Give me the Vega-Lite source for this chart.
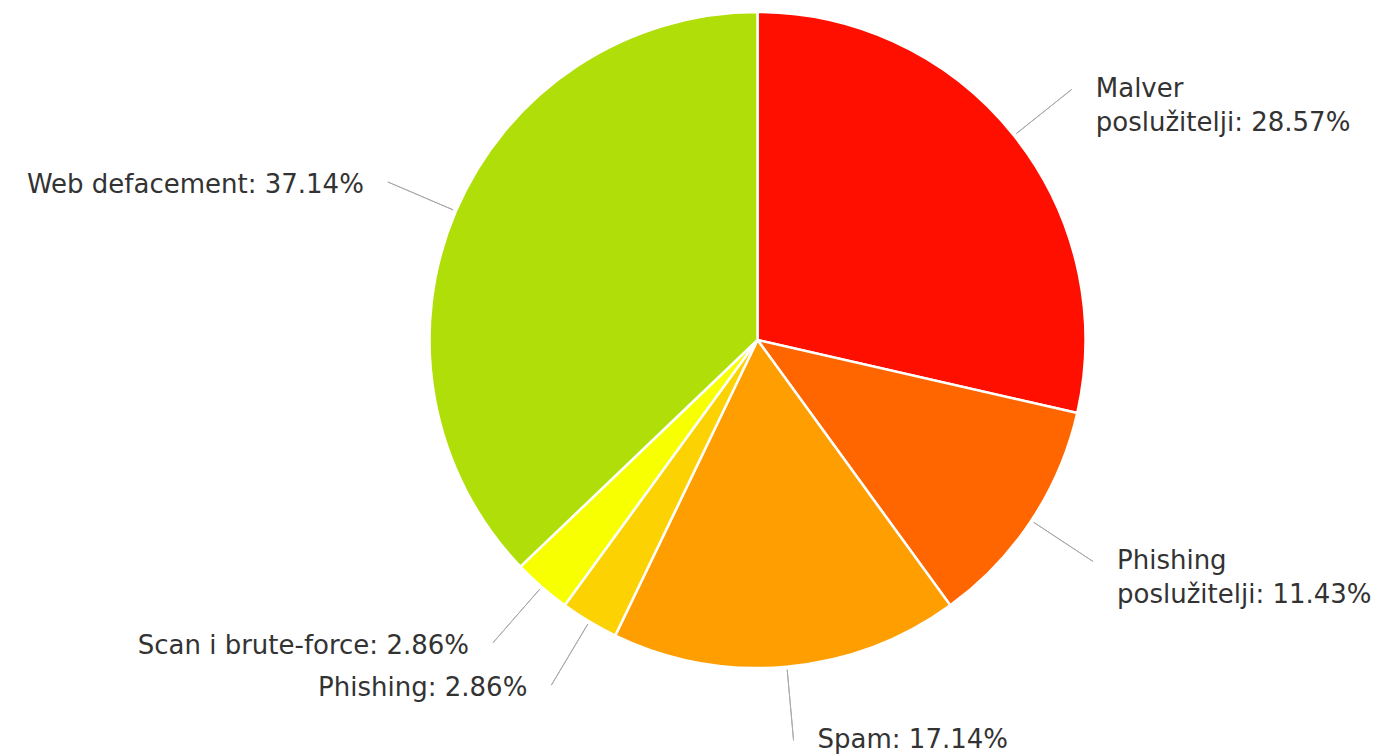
{
  "$schema": "https://vega.github.io/schema/vega-lite/v6.json",
  "width": 1255,
  "height": 680,
  "autosize": "none",
  "padding": {"left": 130, "top": 0, "right": 0, "bottom": 76},
  "background": "white",
  "view": {"stroke": null},
  "data": {
    "values": [
      {"o": 1, "kategorija": "Malver poslužitelji", "udio": 28.57, "oznaka": "Malver\nposlužitelji: 28.57%"},
      {"o": 2, "kategorija": "Phishing poslužitelji", "udio": 11.43, "oznaka": "Phishing\nposlužitelji: 11.43%"},
      {"o": 3, "kategorija": "Spam", "udio": 17.14, "oznaka": "Spam: 17.14%"},
      {"o": 4, "kategorija": "Phishing", "udio": 2.86, "oznaka": "Phishing: 2.86%"},
      {"o": 5, "kategorija": "Scan i brute-force", "udio": 2.86, "oznaka": "Scan i brute-force: 2.86%"},
      {"o": 6, "kategorija": "Web defacement", "udio": 37.14, "oznaka": "Web defacement: 37.14%"}
    ]
  },
  "encoding": {
    "theta": {"field": "udio", "type": "quantitative", "stack": true},
    "order": {"field": "o", "type": "quantitative", "sort": "ascending"}
  },
  "layer": [
    {
      "mark": {"type": "arc", "outerRadius": 328, "stroke": "white", "strokeWidth": 2.5},
      "encoding": {
        "color": {
          "field": "kategorija",
          "type": "nominal",
          "scale": {
            "domain": ["Malver poslužitelji", "Phishing poslužitelji", "Spam", "Phishing", "Scan i brute-force", "Web defacement"],
            "range": ["#FF0F00", "#FF6600", "#FF9E01", "#FCD202", "#F8FF01", "#B0DE09"]
          },
          "legend": null
        }
      }
    },
    {
      "mark": {"type": "arc", "innerRadius": 331, "outerRadius": 402, "padAngle": 3, "stroke": "#aaaaaa", "strokeWidth": 1, "fillOpacity": 0}
    },
    {
      "mark": {"type": "text", "radius": 402, "align": "left", "baseline": "top", "dx": 24, "dy": -13, "font": "DejaVu Sans", "fontSize": 26, "lineHeight": 34, "lineBreak": "\n", "color": "#333333"},
      "encoding": {
        "text": {"field": "oznaka", "type": "nominal"},
        "opacity": {"condition": {"test": "datum.o <= 3", "value": 1}, "value": 0}
      }
    },
    {
      "mark": {"type": "text", "radius": 402, "align": "right", "baseline": "middle", "dx": -24, "dy": 3, "font": "DejaVu Sans", "fontSize": 26, "color": "#333333"},
      "encoding": {
        "text": {"field": "oznaka", "type": "nominal"},
        "opacity": {"condition": {"test": "datum.o >= 4", "value": 1}, "value": 0}
      }
    }
  ]
}
